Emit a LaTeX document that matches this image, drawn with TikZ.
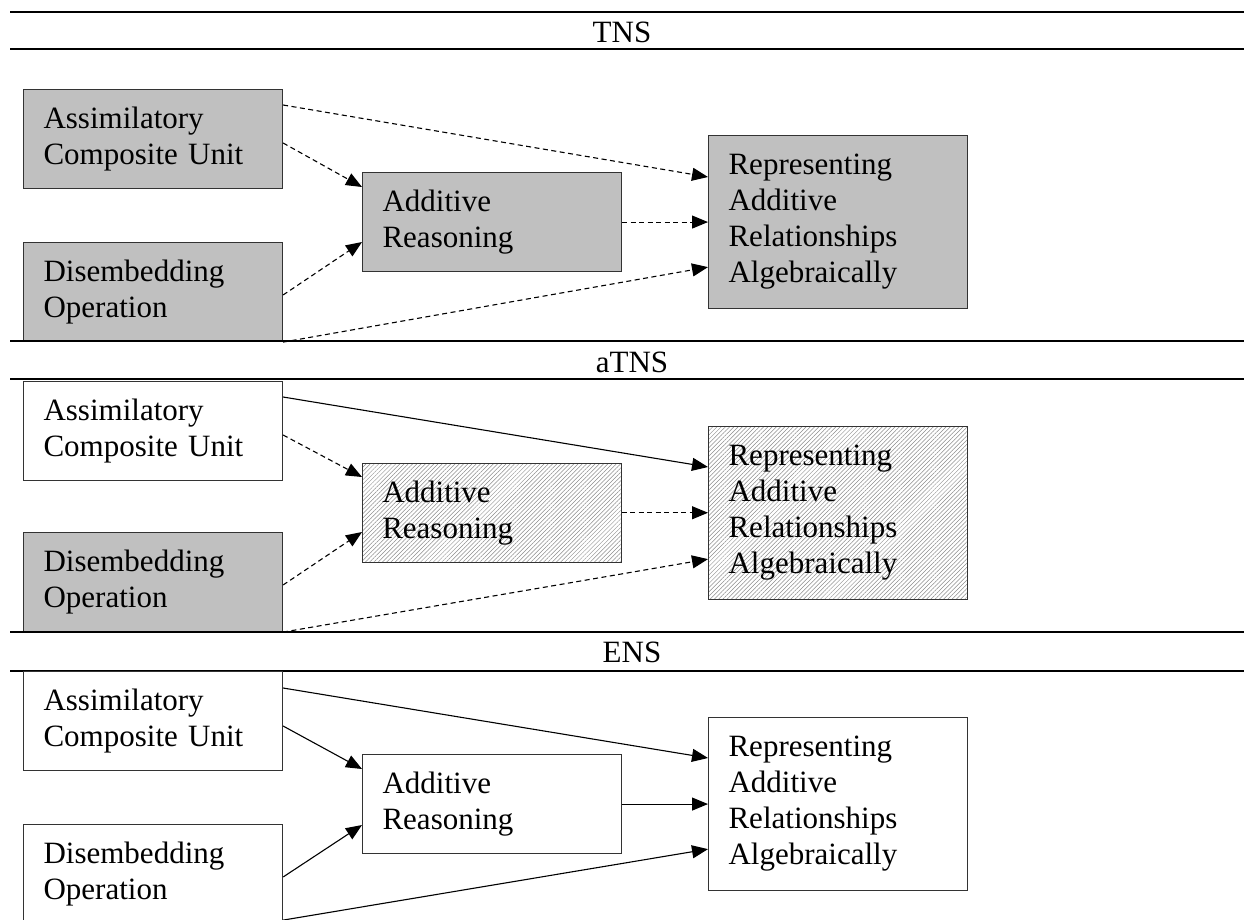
\documentclass[tikz,border=0pt]{standalone}
\usepackage{fontspec}
\setmainfont{Liberation Serif}
\usepackage{xcolor}
\usepackage{tikz}
\usetikzlibrary{arrows.meta}
\usetikzlibrary{patterns.meta}

\definecolor{boxgray}{HTML}{C0C0C0}

\tikzset{
  box/.style={draw=black!80, line width=1.1pt, anchor=north west, inner xsep=20pt, inner ysep=0pt,
    minimum height=99pt, text width=219pt, align=left, font=\fontsize{31}{36}\selectfont},
  tall/.style={box, minimum height=173pt},
  shaded/.style={fill=boxgray},
  hatched/.style={pattern={Lines[angle=45,distance=3pt,line width=0.5pt]}, pattern color=black!45},
  link/.style={line width=1.1pt, -{Triangle[length=16pt,width=13pt]}},
  weak/.style={link, dash pattern=on 5pt off 3.5pt},
  rule/.style={line width=2pt},
  title/.style={anchor=base, font=\fontsize{31}{36}\selectfont}
}

\begin{document}
\begin{tikzpicture}[x=1pt, y=-1pt]
    \useasboundingbox (0,0) rectangle (1244,919);

    % TNS
    \draw[rule] (10,12) -- (1244,12) (10,49) -- (1244,49);
    \node[title] (tnsT) at (622,42) {TNS};
    \node[box, shaded] (tA) at (23,89) {Assimilatory\\Composite Unit};
    \node[box, shaded] (tD) at (23,242) {Disembedding\\Operation};
    \node[box, shaded] (tB) at (362,172) {Additive\\Reasoning};
    \node[tall, shaded] (tR) at (708,135) {Representing\\Additive\\Relationships\\Algebraically};
    \draw[weak] ([yshift=-16pt]tA.north east) -- ([yshift=-42pt]tR.north west);
    \draw[weak] ([yshift=-54pt]tA.north east) -- ([yshift=-15pt]tB.north west);
    \draw[weak] ([yshift=-53pt]tD.north east) -- ([yshift=-70pt]tB.north west);
    \draw[weak] (tB.east) -- (tB.east -| tR.west);
    \draw[weak] (tD.south east) -- ([yshift=42pt]tR.south west);

    % aTNS
    \draw[rule] (10,341) -- (1244,341) (10,379) -- (1244,379);
    \node[title] (atnsT) at (632,372) {aTNS};
    \node[box] (aA) at (23,381) {Assimilatory\\Composite Unit};
    \node[box, shaded] (aD) at (23,532) {Disembedding\\Operation};
    \node[box, hatched] (aB) at (362,463) {Additive\\Reasoning};
    \node[tall, hatched] (aR) at (708,426) {Representing\\Additive\\Relationships\\Algebraically};
    \draw[link] ([yshift=-16pt]aA.north east) -- ([yshift=-41pt]aR.north west);
    \draw[weak] ([yshift=-54pt]aA.north east) -- ([yshift=-14pt]aB.north west);
    \draw[weak] ([yshift=-53pt]aD.north east) -- ([yshift=-69pt]aB.north west);
    \draw[weak] (aB.east) -- (aB.east -| aR.west);
    \draw[weak] (aD.south east) -- ([yshift=41pt]aR.south west);

    % ENS
    \draw[rule] (10,632) -- (1244,632) (10,671) -- (1244,671);
    \node[title] (ensT) at (632,662) {ENS};
    \node[box] (eA) at (23,671) {Assimilatory\\Composite Unit};
    \node[box] (eD) at (23,824) {Disembedding\\Operation};
    \node[box] (eB) at (362,754) {Additive\\Reasoning};
    \node[tall] (eR) at (708,717) {Representing\\Additive\\Relationships\\Algebraically};
    \draw[link] ([yshift=-17pt]eA.north east) -- ([yshift=-41pt]eR.north west);
    \draw[link] ([yshift=-55pt]eA.north east) -- ([yshift=-15pt]eB.north west);
    \draw[link] ([yshift=-53pt]eD.north east) -- ([yshift=-71pt]eB.north west);
    \draw[link] (eB.east) -- (eB.east -| eR.west);
    \draw[link] ([yshift=4pt]eD.south east) -- ([yshift=42pt]eR.south west);
\end{tikzpicture}
\end{document}
